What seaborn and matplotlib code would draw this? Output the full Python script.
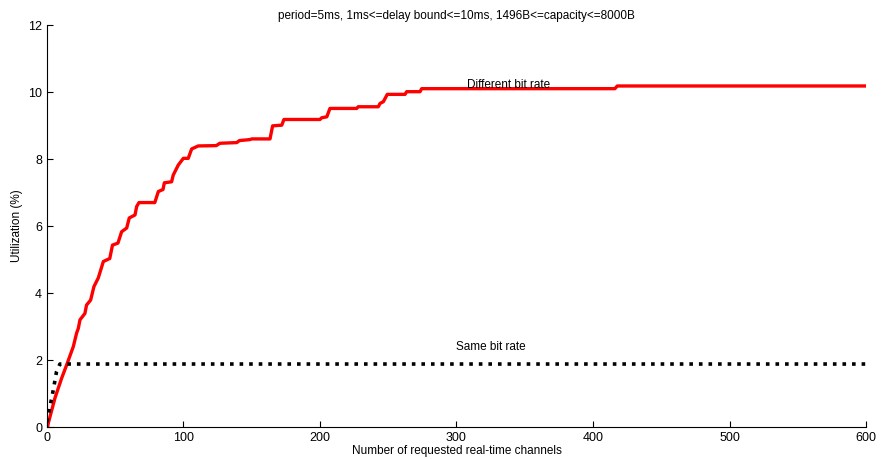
import pandas as pd
import matplotlib
matplotlib.use("Agg")
import matplotlib.pyplot as plt
import seaborn as sns

# Кривые
diff_x = [0.5, 1, 5.9, 8.3, 10.7, 14.4, 19.3, 21.7, 23, 24.2, 27.8, 29, 32, 34.4, 37.6,
          41.3, 46, 48, 52, 54.7, 58.4, 60.3, 64.5, 65.7, 67.4, 79, 81.6, 85, 86, 91.3,
          92.5, 96.2, 99.9, 103.5, 106, 110.8, 124, 126.7, 139, 141, 148.7, 150, 163.4,
          165.3, 172, 173.6, 200, 201.2, 205, 207.3, 226.9, 228, 242.7, 244, 246.4,
          249.3, 262.3, 263.5, 273.3, 274.5, 416, 417.8, 600]
diff_y = [0.0, 0.12, 0.87, 1.16, 1.45, 1.85, 2.4, 2.8, 2.95, 3.2, 3.39, 3.64, 3.79, 4.19,
          4.45, 4.94, 5.03, 5.43, 5.49, 5.83, 5.94, 6.24, 6.33, 6.58, 6.70, 6.70, 7.03,
          7.09, 7.29, 7.32, 7.52, 7.82, 8.02, 8.02, 8.30, 8.39, 8.40, 8.47, 8.49, 8.55,
          8.58, 8.60, 8.60, 8.99, 9.01, 9.18, 9.18, 9.23, 9.26, 9.51, 9.51, 9.56, 9.56,
          9.66, 9.71, 9.93, 9.93, 10.01, 10.01, 10.10, 10.10, 10.18, 10.18]

same_x = [0, 1, 4.6, 7, 9.5, 600]
same_y = [0.15, 0.36, 1.1, 1.65, 1.88, 1.88]

x_ticks = [0, 100, 200, 300, 400, 500, 600]
y_ticks = [0, 2, 4, 6, 8, 10, 12]

title = "period=5ms, 1ms<=delay bound<=10ms, 1496B<=capacity<=8000B"

sns.set_style("ticks")
plt.rcParams["font.family"] = ["Liberation Sans", "DejaVu Sans"]
plt.rcParams["xtick.direction"] = "in"
plt.rcParams["ytick.direction"] = "in"
plt.rcParams["text.color"] = "black"
plt.rcParams["axes.labelcolor"] = "black"
plt.rcParams["xtick.color"] = "black"
plt.rcParams["ytick.color"] = "black"
plt.rcParams["axes.edgecolor"] = "black"

df_diff = pd.DataFrame({"x": diff_x, "y": diff_y})
df_same = pd.DataFrame({"x": same_x, "y": same_y})

fig = plt.figure(figsize=(8.81, 4.59), dpi=100)
ax = fig.add_axes([0.0533, 0.0697, 0.9297, 0.8758])

sns.lineplot(data=df_diff, x="x", y="y", sort=False, estimator=None,
             color="#ff0000", linewidth=2.4, ax=ax)
sns.lineplot(data=df_same, x="x", y="y", sort=False, estimator=None,
             color="black", linewidth=2.6, linestyle=":", ax=ax)

ax.text(338, 10.2, "Different bit rate", ha="center", va="center", fontsize=8.5)
ax.text(325, 2.39, "Same bit rate", ha="center", va="center", fontsize=8.5)

ax.set_xlim(0, 600)
ax.set_ylim(0, 12)
ax.set_xticks(x_ticks)
ax.set_yticks(y_ticks)
ax.tick_params(labelsize=9, length=4, width=0.8)
ax.set_xlabel("Number of requested real-time channels", fontsize=8.5, labelpad=1)
ax.set_ylabel("Utilization (%)", fontsize=8.5, labelpad=4)
ax.set_title(title, fontsize=8.5, pad=4)
sns.despine(ax=ax)

fig.savefig("out.png", dpi=100)
